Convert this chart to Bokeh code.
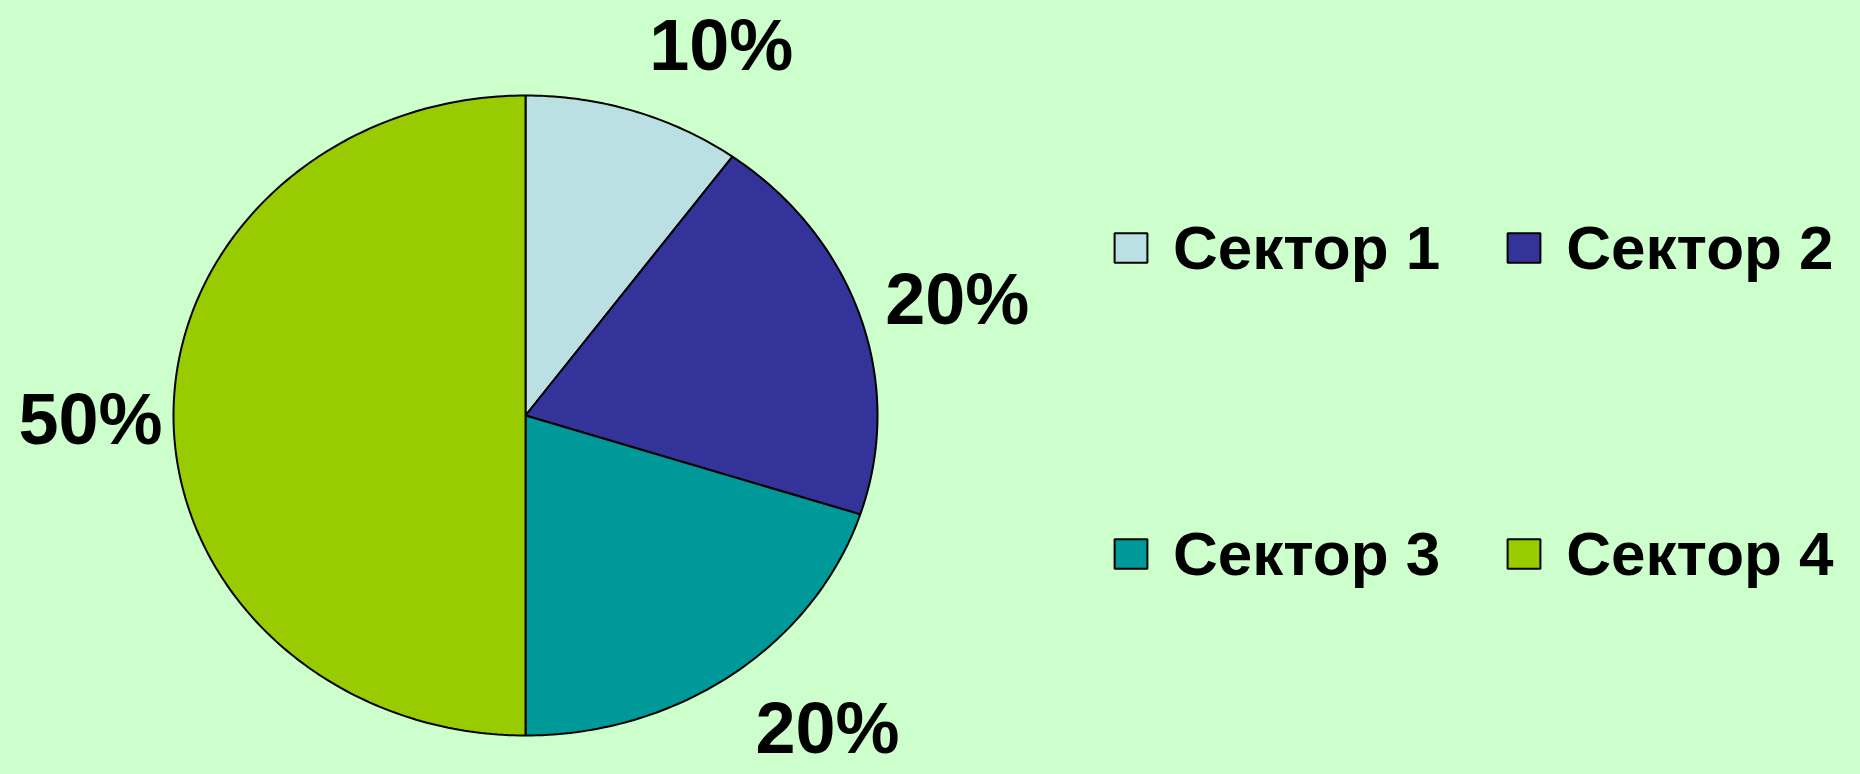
import numpy as np
from bokeh.plotting import figure
from bokeh.models import ColumnDataSource, Range1d, Legend, LegendItem
from bokeh.core.properties import value
from bokeh.embed import file_html
from bokeh.resources import INLINE

# ---- data ----
categories = ["Сектор 1", "Сектор 2", "Сектор 3", "Сектор 4"]
shares = [10, 20, 20, 50]
colors = ["#BBE0E3", "#333399", "#009999", "#99CC00"]

# ---- layout (pixels) ----
W, H = 1860, 774
CX, CY = 525, 415          # pie centre inside the figure (from top-left)
RX, RY = 352, 320          # pie radii in px (ellipse)
BG = "#CCFFCC"

p = figure(width=W, height=H, output_backend="svg", toolbar_location=None,
           x_range=Range1d(-CX / RX, (W - CX) / RX),
           y_range=Range1d(-(H - CY) / RY, CY / RY),
           min_border=0)
p.axis.visible = False
p.grid.visible = False
p.outline_line_color = None
p.background_fill_color = BG
p.border_fill_color = BG

# wedges as polygons in unit-circle space (scales stretch to ellipse)
total = float(sum(shares))
cum = np.concatenate([[0.0], np.cumsum(shares)]) / total * 2 * np.pi
xs, ys, mids = [], [], []
for a0, a1 in zip(cum[:-1], cum[1:]):
    t = np.linspace(a0, a1, max(int((a1 - a0) / (2 * np.pi) * 400), 8))
    xs.append(np.concatenate([[0.0], np.sin(t), [0.0]]))
    ys.append(np.concatenate([[0.0], np.cos(t), [0.0]]))
    mids.append((a0 + a1) / 2)

src = ColumnDataSource(dict(xs=xs, ys=ys, color=colors, label=categories))
r = p.patches("xs", "ys", source=src, fill_color="color",
              line_color="black", line_width=2)

# percentage labels
mids = np.array(mids)
s, c = np.sin(mids), np.cos(mids)
align = ["left" if v > 0.1 else ("right" if v < -0.1 else "center") for v in s]
base = ["bottom" if v > 0.5 else ("top" if v < -0.5 else "middle") for v in c]
x_off = [15, 25, 23, -11]
y_off = [-26, -18, 14, 3]
lab = ColumnDataSource(dict(x=s, y=c, text=[f"{v}%" for v in shares],
                            align=align, base=base, xo=x_off, yo=y_off))
p.text("x", "y", text="text", source=lab, text_align="align",
       text_baseline="base", x_offset="xo", y_offset="yo",
       text_font=value("Liberation Sans"), text_font_style="bold",
       text_font_size="72px", text_color="black")

# legend: two rows of two items
def make_legend(idx, loc):
    lg = Legend(items=[LegendItem(label=categories[i], renderers=[r], index=i) for i in idx],
                orientation="horizontal", location=loc,
                glyph_width=41, glyph_height=37, label_standoff=22, spacing=63,
                padding=0, margin=0,
                label_text_font="Liberation Sans", label_text_font_style="bold",
                label_text_font_size="62px", label_text_color="black",
                background_fill_alpha=0, border_line_alpha=0)
    p.add_layout(lg, "center")
    return lg

make_legend([0, 1], (1110, 491))
make_legend([2, 3], (1110, 185))

html = file_html(p, INLINE)
html = html.replace("<body>", '<body style="background-color:#CCFFCC;">')
open("out.html", "w").write(html)
